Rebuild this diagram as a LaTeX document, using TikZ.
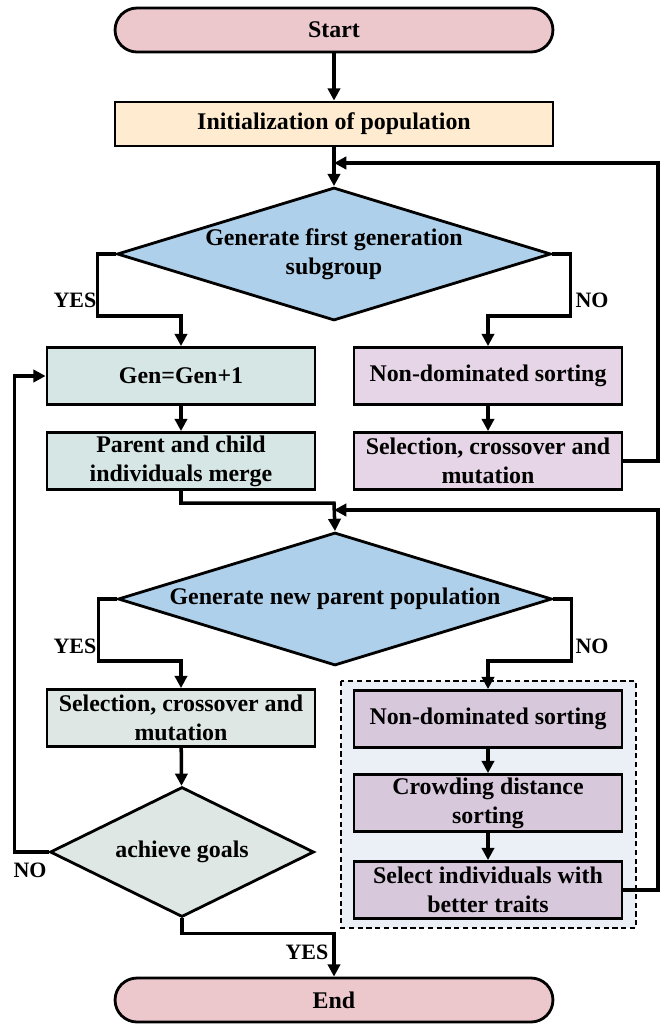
\documentclass[tikz,border=0pt]{standalone}
\usepackage{fontspec}
\setmainfont{Liberation Serif}
\usetikzlibrary{arrows.meta, positioning, shapes.geometric, calc}

\definecolor{pinkterm}{HTML}{ECC8CC}
\definecolor{peach}{HTML}{FEEBD0}
\definecolor{skyblue}{HTML}{AFD0EA}
\definecolor{mintgray}{HTML}{D5E6E4}
\definecolor{lilac}{HTML}{E6D5E6}
\definecolor{sagegray}{HTML}{DEE7E3}
\definecolor{mauve}{HTML}{D8C8DC}
\definecolor{paleblue}{HTML}{EBF0F7}

\tikzset{
  txt/.style={font=\bfseries\fontsize{13.6}{16.5}\selectfont, align=center},
  term/.style={txt, draw, line width=1.6pt, rounded corners=0.44cm,
    minimum width=8.76cm, minimum height=0.88cm, fill=pinkterm},
  box/.style={txt, draw, line width=1.6pt, minimum width=5.36cm,
    minimum height=1.14cm, inner sep=1pt},
  decide/.style={txt, draw, diamond, line width=1.6pt, inner sep=0pt,
    shape aspect=3.2, minimum width=8.68cm, minimum height=2.66cm, fill=skyblue},
  arr/.style={line width=2pt, -{Triangle[length=7pt,width=7pt]}},
  lbl/.style={font=\bfseries\fontsize{12.5}{13}\selectfont}
}

\begin{document}
\begin{tikzpicture}[x=0.02cm, y=-0.02cm]
  \useasboundingbox (0,0) rectangle (661,1025);

  % group frame
  \draw[line width=1.6pt, dash pattern=on 3pt off 2pt, fill=paleblue]
    (341,681) rectangle (636,928);

  % Start / init
  \node[term] (start) at (334,30) {Start};
  \node[box, fill=peach, minimum width=8.76cm, minimum height=0.88cm] (init) at (334,124) {Initialization of population};

  % first decision
  \node[decide] (d1) at (334,254) {Generate first generation\\subgroup};
  \node[box, fill=mintgray] (gen) at (181,376) {Gen=Gen+1};
  \node[box, fill=mintgray] (merge) at (181,461) {Parent and child\\individuals merge};
  \node[box, fill=lilac] (nd1) at (488,376) {Non-dominated sorting};
  \node[box, fill=lilac] (sel1) at (488,461) {Selection, crossover and\\mutation};

  % second decision
  \node[decide] (d2) at (335,599) {Generate new parent population};
  \node[box, fill=sagegray] (sel2) at (181,718) {Selection, crossover and\\mutation};
  \node[decide, fill=sagegray, shape aspect=2, minimum width=5.28cm, minimum height=2.6cm] (ach) at (182,852) {achieve goals};
  \node[box, fill=mauve] (nd2) at (488,719) {Non-dominated sorting};
  \node[box, fill=mauve] (crowd) at (488,803) {Crowding distance\\sorting};
  \node[box, fill=mauve] (sel3) at (488,890) {Select individuals with\\better traits};

  \node[term] (end) at (334,1000) {End};

  % junctions
  \coordinate (j1) at (334,163);
  \coordinate (r1) at (658,163);
  \coordinate (j2) at (334,510);
  \coordinate (r2) at (658,510);
  \coordinate (m) at (334,503);

  % Arrows
  \draw[arr] (start) -- (init);
  \draw[arr] (init) -- (d1);
  \draw[arr] (d1.west) -- ++(-18,0) |- ($(gen.north)+(0,-30)$) -- (gen.north);
  \draw[arr] (d1.east) -- ++(18,0) |- ($(nd1.north)+(0,-30)$) -- (nd1.north);
  \draw[arr] (gen) -- (merge);
  \draw[arr] (nd1) -- (sel1);
  \draw[arr] (sel1.east) -| (r1) -- (j1);
  \draw[arr] (merge.south) |- (m) -- (d2.north);
  \draw[arr] (d2.west) -- ++(-18,0) |- ($(sel2.north)+(0,-27)$) -- (sel2.north);
  \draw[arr] (d2.east) -- ++(18,0) |- ($(nd2.north)+(0,-28)$) -- (nd2.north);
  \draw[arr] (sel2) -- (ach);
  \draw[arr] (nd2) -- (crowd);
  \draw[arr] (crowd) -- (sel3);
  \draw[arr] (sel3.east) -| (r2) -- (j2);
  \draw[arr] (ach.west) -- ++(-34,0) |- (gen.west);
  \draw[arr] (ach.south) -- ++(0,15) -| (end.north);

  % Labels
  \node[lbl] (y1) at (75,300) {YES};
  \node[lbl] (n1) at (592,300) {NO};
  \node[lbl] (y2) at (75,646) {YES};
  \node[lbl] (n2) at (592,646) {NO};
  \node[lbl] (n3) at (30,870) {NO};
  \node[lbl] (y3) at (307,952) {YES};
\end{tikzpicture}
\end{document}
